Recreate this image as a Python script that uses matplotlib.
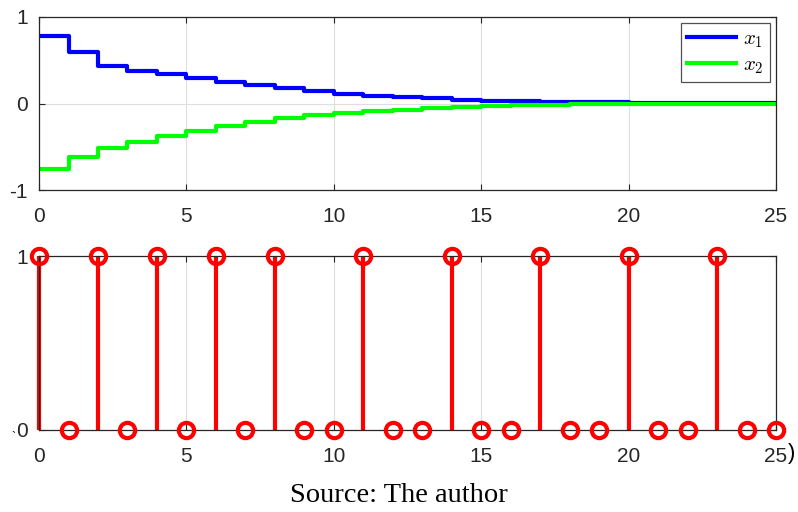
import numpy as np
import matplotlib.pyplot as plt

# sample index
k = np.arange(0, 26)

# states
x1 = [0.78, 0.59, 0.43, 0.38, 0.34, 0.29, 0.25, 0.21, 0.18, 0.145,
      0.115, 0.092, 0.076, 0.058, 0.046, 0.032, 0.027, 0.021, 0.017, 0.014,
      0.011, 0.009, 0.007, 0.006, 0.005, 0.005]
x2 = [-0.76, -0.62, -0.52, -0.44, -0.38, -0.32, -0.26, -0.21, -0.17, -0.13,
      -0.115, -0.089, -0.07, -0.054, -0.04, -0.028, -0.02, -0.013, -0.010, -0.008,
      -0.006, -0.005, -0.004, -0.003, -0.002, -0.002]

# switching signal (stem plot)
sigma = [1, 0, 1, 0, 1, 0, 1, 0, 1, 0, 0, 1, 0, 0, 1, 0, 0, 1, 0, 0,
         1, 0, 0, 1, 0, 0]

xticks = [0, 5, 10, 15, 20, 25]

plt.rcParams['font.family'] = ['Liberation Sans', 'DejaVu Sans']
plt.rcParams['mathtext.fontset'] = 'cm'
plt.rcParams['axes.unicode_minus'] = False

fig = plt.figure(figsize=(7.98, 5.12), dpi=100)
ax1 = fig.add_axes([0.0489, 0.6289, 0.9236, 0.3379])
ax2 = fig.add_axes([0.0489, 0.1602, 0.9236, 0.3398])

spine_col = '#262626'
grid_col = '#dedede'

for ax in (ax1, ax2):
    ax.set_xlim(0, 25)
    ax.set_xticks(xticks)
    ax.grid(True, color=grid_col, linewidth=0.8)
    ax.set_axisbelow(True)
    ax.tick_params(direction='in', top=True, right=True, length=4,
                   width=0.8, color=spine_col, labelsize=15, labelcolor='#262626')
    ax.tick_params(axis='x', pad=12)
    ax.tick_params(axis='y', pad=8)
    for s in ax.spines.values():
        s.set_color(spine_col)
        s.set_linewidth(0.9)

# top: stairs
ax1.step(k, x1, where='post', color='#0000ff', lw=3, label='$x_1$')
ax1.step(k, x2, where='post', color='#00ff00', lw=3, label='$x_2$')
ax1.set_ylim(-1, 1)
ax1.set_yticks([-1, 0, 1])
leg = ax1.legend(loc='upper right', fontsize=15, frameon=True, fancybox=False,
                 handlelength=2.35, borderpad=0.3, labelspacing=0.25,
                 handletextpad=0.35, borderaxespad=0.3)
leg.get_frame().set_edgecolor(spine_col)
leg.get_frame().set_linewidth(0.9)

# bottom: stems
ml, sl, bl = ax2.stem(k, sigma, linefmt='r-', markerfmt='o', basefmt=' ')
plt.setp(sl, linewidth=3, color='#ff0000')
plt.setp(ml, markersize=11, markerfacecolor='none', markeredgecolor='#ff0000',
         markeredgewidth=3, clip_on=False, zorder=5)
sl.set_clip_on(False)
ax2.set_ylim(0, 1)
ax2.set_yticks([0, 1])

fig.text(0.988, 0.115, ')', fontsize=16, ha='left', va='center')
fig.text(0.017, 0.145, '`', fontsize=9, ha='center', va='center')
fig.text(0.5, 0.033, 'Source: The author', fontsize=20.5, ha='center', va='center',
         family='Liberation Serif')

fig.savefig('out.png', dpi=100)
